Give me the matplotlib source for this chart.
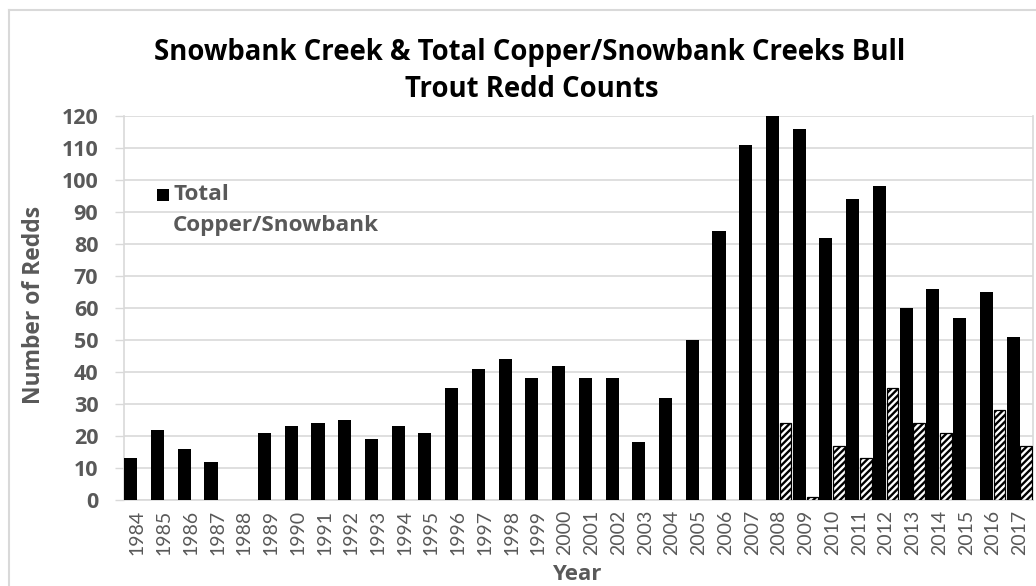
import numpy as np
import matplotlib
matplotlib.use("Agg")
import matplotlib.pyplot as plt
from matplotlib.patches import Rectangle
from matplotlib.lines import Line2D

years = [str(y) for y in range(1984, 2018)]
total = [13, 22, 16, 12, np.nan, 21, 23, 24, 25, 19, 23, 21, 35, 41, 44, 38, 42, 38,
         38, 18, 32, 50, 84, 111, 120, 116, 82, 94, 98, 60, 66, 57, 65, 51]
snowbank = [np.nan] * 24 + [24, 1, 17, 13, 35, 24, 21, np.nan, 28, 17]
yticks = list(range(0, 121, 10))

GRAY = "#595959"
GRID = "#d9d9d9"
BF = "Open Sans"

plt.rcParams["hatch.linewidth"] = 1.7

fig = plt.figure(figsize=(10.36, 5.86), dpi=100)
W, H = 1036, 586
ax = fig.add_axes([124 / W, 1 - 500 / H, (1033 - 124) / W, (500 - 116) / H])

x = np.arange(len(years))
bw = 0.49
ax.bar(x - bw / 2, total, width=bw, color="black", zorder=3)
ax.bar(x + bw / 2, snowbank, width=bw * 0.88, color="white", edgecolor="black",
       hatch="/////", linewidth=0.9, zorder=3)

ax.set_xlim(-0.5, len(years) - 0.5)
ax.set_ylim(0, 120)
ax.set_yticks(yticks)
ax.set_yticklabels([str(v) for v in yticks], fontfamily=BF, fontweight="bold",
                   fontsize=15.5, color=GRAY)
ax.set_xticks(x)
ax.set_xticklabels(years, rotation=90, fontfamily="Lato", fontsize=14, color=GRAY)
ax.tick_params(axis="x", length=0, pad=7)
ax.tick_params(axis="y", length=6.5, width=1.0, color=GRID, pad=12)
ax.yaxis.grid(True, color=GRID, linewidth=1.2, zorder=0)
ax.set_axisbelow(True)
for side in ["left", "right", "bottom", "top"]:
    ax.spines[side].set_color(GRID)
    ax.spines[side].set_linewidth(1.2)
ax.spines["top"].set_visible(False)

ax.set_xlabel("Year", fontfamily=BF, fontweight="bold", fontsize=16, color=GRAY)
ax.xaxis.set_label_coords((577 - 124) / 909, -(575 - 500) / 384)
ax.xaxis.label.set_va("center")
ax.set_ylabel("Number of Redds", fontfamily=BF, fontweight="bold", fontsize=16.5, color=GRAY)
ax.yaxis.label.set_va("center")
ax.yaxis.set_label_coords((34 - 124) / 909, (500 - 305) / 384)

# legend (manual)
fig.add_artist(Rectangle((157 / W, 1 - 201 / H), 12 / W, 12 / H, transform=fig.transFigure,
                         facecolor="black", edgecolor="none"))
fig.text(173 / W, 1 - 195 / H, "Total", fontfamily=BF, fontweight="bold", fontsize=16.2,
         color=GRAY, va="center", ha="left")
fig.text(173 / W, 1 - 226 / H, "Copper/Snowbank", fontfamily=BF, fontweight="bold",
         fontsize=16.2, color=GRAY, va="center", ha="left")

# title
fig.text(530 / W, 1 - 60 / H, "Snowbank Creek & Total Copper/Snowbank Creeks Bull",
         fontfamily=BF, fontweight="bold", fontsize=19.8, color="black", ha="center", va="baseline")
fig.text(532 / W, 1 - 97 / H, "Trout Redd Counts",
         fontfamily=BF, fontweight="bold", fontsize=19.8, color="black", ha="center", va="baseline")

# outer chart border
fig.add_artist(Line2D([9 / W, 9 / W], [0, 1 - 10 / H], transform=fig.transFigure, color=GRID, lw=1.5))
fig.add_artist(Line2D([9 / W, 1], [1 - 10 / H, 1 - 10 / H], transform=fig.transFigure, color=GRID, lw=1.5))

fig.savefig("out.png", dpi=100)
